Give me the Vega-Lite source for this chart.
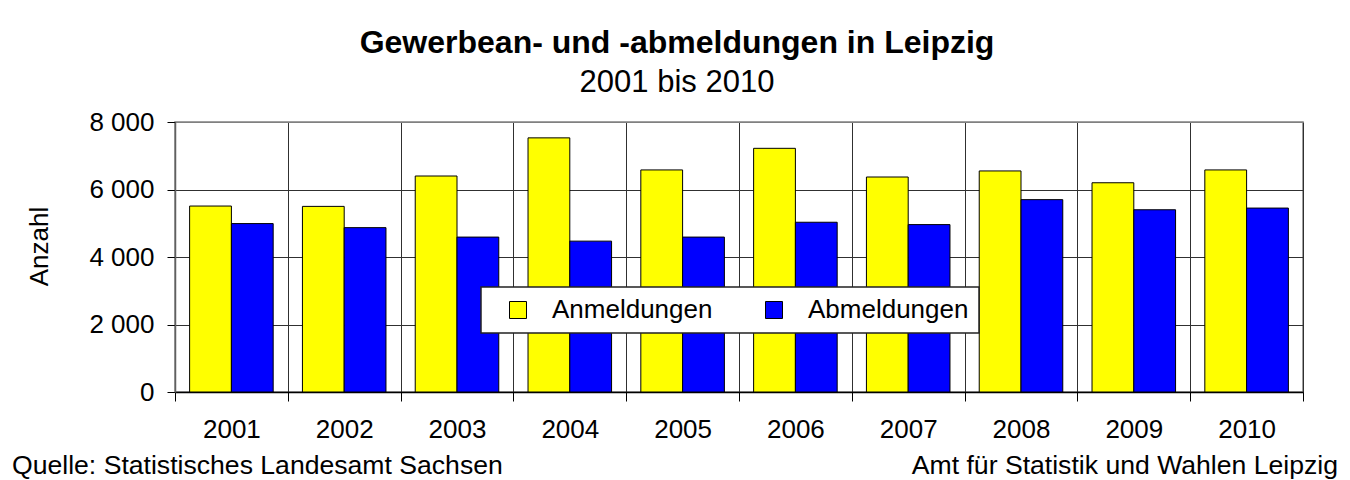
{
  "$schema": "https://vega.github.io/schema/vega-lite/v6.json",
  "width": 1128,
  "height": 270,
  "autosize": {"type": "none"},
  "padding": {"left": 175, "top": 122, "right": 47, "bottom": 88},
  "background": "white",
  "config": {
    "font": "Liberation Sans",
    "view": {"stroke": "#808080", "strokeWidth": 1.5},
    "legend": {"strokeColor": "#222222", "fillColor": "white"}
  },
  "title": {
    "text": "Gewerbean- und -abmeldungen in Leipzig",
    "subtitle": "2001 bis 2010",
    "font": "Liberation Sans",
    "subtitleFont": "Liberation Sans",
    "fontSize": 32,
    "fontWeight": "bold",
    "subtitleFontSize": 31,
    "color": "black",
    "subtitleColor": "black",
    "subtitlePadding": 8,
    "anchor": "middle",
    "frame": "group",
    "dx": -62,
    "offset": 10
  },
  "layer": [
    {
      "data": {
        "values": [
          {"year": "2001", "type": "Anmeldungen", "value": 5510},
          {"year": "2001", "type": "Abmeldungen", "value": 4990},
          {"year": "2002", "type": "Anmeldungen", "value": 5500},
          {"year": "2002", "type": "Abmeldungen", "value": 4870},
          {"year": "2003", "type": "Anmeldungen", "value": 6400},
          {"year": "2003", "type": "Abmeldungen", "value": 4590},
          {"year": "2004", "type": "Anmeldungen", "value": 7530},
          {"year": "2004", "type": "Abmeldungen", "value": 4470},
          {"year": "2005", "type": "Anmeldungen", "value": 6580},
          {"year": "2005", "type": "Abmeldungen", "value": 4590},
          {"year": "2006", "type": "Anmeldungen", "value": 7220},
          {"year": "2006", "type": "Abmeldungen", "value": 5030},
          {"year": "2007", "type": "Anmeldungen", "value": 6370},
          {"year": "2007", "type": "Abmeldungen", "value": 4960},
          {"year": "2008", "type": "Anmeldungen", "value": 6550},
          {"year": "2008", "type": "Abmeldungen", "value": 5700},
          {"year": "2009", "type": "Anmeldungen", "value": 6200},
          {"year": "2009", "type": "Abmeldungen", "value": 5400},
          {"year": "2010", "type": "Anmeldungen", "value": 6580},
          {"year": "2010", "type": "Abmeldungen", "value": 5450}
        ]
      },
      "mark": {"type": "bar", "stroke": "black", "strokeWidth": 1},
      "encoding": {
        "x": {
          "field": "year",
          "type": "nominal",
          "scale": {"paddingInner": 0, "paddingOuter": 0},
          "axis": {
            "title": null,
            "labelAngle": 0,
            "labelFontSize": 26,
            "labelColor": "black",
            "tickBand": "extent",
            "tickSize": 9,
            "tickColor": "black",
            "labelPadding": 15,
            "domainColor": "black",
            "domainWidth": 1.5,
            "grid": true,
            "gridColor": "#303030",
            "gridOpacity": 1
          }
        },
        "xOffset": {
          "field": "type",
          "type": "nominal",
          "scale": {"domain": ["Anmeldungen", "Abmeldungen"], "paddingInner": 0, "paddingOuter": 0.35}
        },
        "y": {
          "field": "value",
          "type": "quantitative",
          "scale": {"domain": [0, 8000], "nice": false},
          "axis": {
            "values": [0, 1000, 2000, 3000, 4000, 5000, 6000, 7000, 8000],
            "title": "Anzahl",
            "titleFontSize": 26,
            "titleFontWeight": "normal",
            "titleColor": "black",
            "titleX": -136,
            "titleY": 124,
            "titleAngle": 270,
            "titleAlign": "center",
            "titleBaseline": "middle",
            "labelFontSize": 26,
            "labelColor": "black",
            "labelExpr": "datum.value % 2000 === 0 ? replace(format(datum.value, ','), ',', ' ') : ''",
            "labelPadding": 13,
            "tickSize": 8,
            "tickColor": "black",
            "tickOpacity": {"condition": {"test": "datum.value % 2000 === 0", "value": 1}, "value": 0},
            "domainColor": "#606060",
            "domainWidth": 1.5,
            "grid": true,
            "gridOpacity": 1,
            "gridColor": {"condition": {"test": "datum.value === 8000", "value": "#808080"}, "value": "#303030"}
          }
        },
        "color": {
          "field": "type",
          "type": "nominal",
          "scale": {"domain": ["Anmeldungen", "Abmeldungen"], "range": ["#ffff00", "#0000ff"]},
          "legend": {
            "title": null,
            "orient": "none",
            "legendX": 306,
            "legendY": 165,
            "direction": "horizontal",
            "fillColor": "white",
            "strokeColor": "#222222",
            "padding": 10,
            "symbolType": "square",
            "symbolSize": 289,
            "symbolStrokeColor": "black",
            "symbolStrokeWidth": 1,
            "symbolOffset": 14,
            "labelFontSize": 26,
            "labelColor": "black",
            "labelOffset": 21,
            "columnPadding": 34,
            "labelLimit": 300,
            "encode": {
              "legend": {
                "update": {
                  "stroke": {"value": "#222222"},
                  "strokeWidth": {"value": 1.5},
                  "fill": {"value": "white"}
                }
              }
            }
          }
        }
      }
    },
    {
      "data": {"values": [{"note": "Quelle: Statistisches Landesamt Sachsen"}]},
      "mark": {"type": "text", "align": "left", "baseline": "alphabetic", "dx": -163, "dy": 82, "fontSize": 26.6, "color": "black"},
      "encoding": {
        "x": {"datum": "2001", "type": "nominal", "bandPosition": 0},
        "y": {"datum": 0, "type": "quantitative"},
        "text": {"field": "note", "type": "nominal"}
      }
    },
    {
      "data": {"values": [{"note": "Amt für Statistik und Wahlen Leipzig"}]},
      "mark": {"type": "text", "align": "right", "baseline": "alphabetic", "dx": 35, "dy": 82, "fontSize": 26.6, "color": "black"},
      "encoding": {
        "x": {"datum": "2010", "type": "nominal", "bandPosition": 1},
        "y": {"datum": 0, "type": "quantitative"},
        "text": {"field": "note", "type": "nominal"}
      }
    }
  ]
}
